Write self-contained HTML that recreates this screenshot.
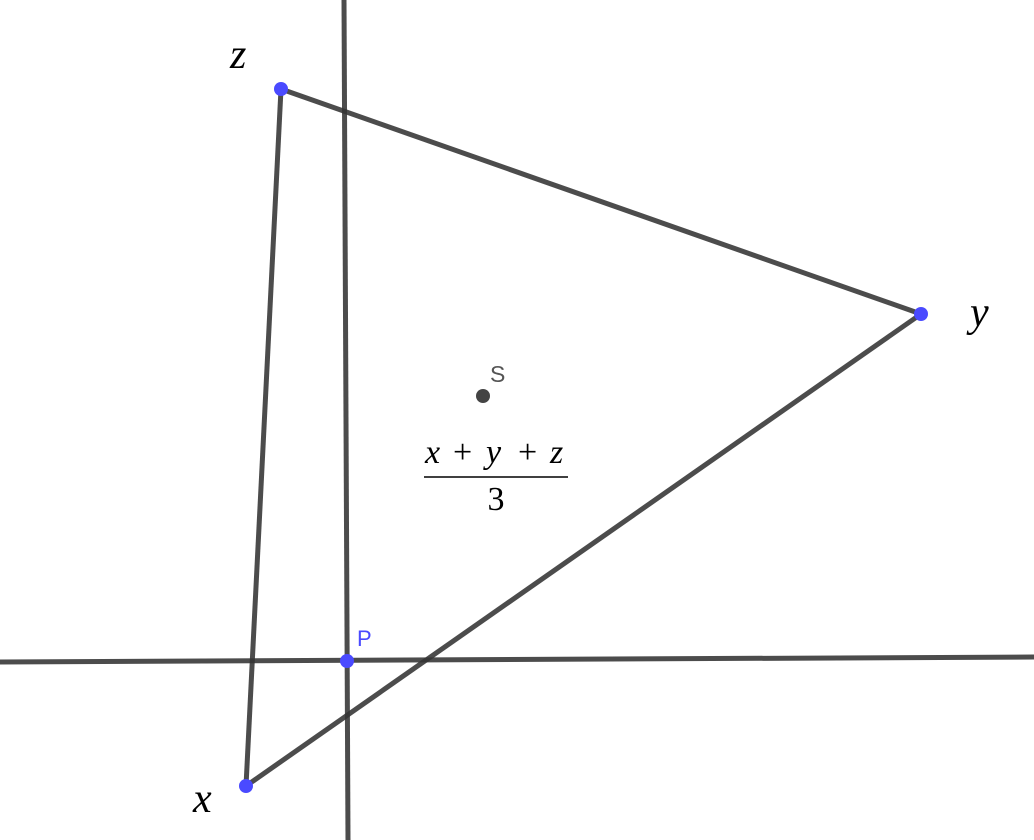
<!DOCTYPE html>
<html><head><meta charset="utf-8"><style>
html,body{margin:0;padding:0;background:#fff;}
svg{display:block;}
.m{font-family:"Liberation Serif",serif;font-style:italic;}
.s{font-family:"Liberation Sans",sans-serif;}
</style></head><body>
<svg width="1034" height="840" viewBox="0 0 1034 840" xmlns="http://www.w3.org/2000/svg">
<g stroke="#333" stroke-opacity="0.88" stroke-width="5" fill="none" stroke-linecap="butt">
<line x1="344" y1="0" x2="348" y2="840"/>
<line x1="0" y1="662" x2="1034" y2="657"/>
<line x1="281" y1="89" x2="921" y2="314"/>
<line x1="921" y1="314" x2="246" y2="786"/>
<line x1="246" y1="786" x2="281" y2="89"/>
</g>
<g fill="#4a4aff">
<circle cx="281" cy="89" r="7"/>
<circle cx="921" cy="314" r="7"/>
<circle cx="246" cy="786" r="7"/>
<circle cx="347" cy="661" r="7"/>
</g>
<circle cx="483" cy="396" r="7" fill="#444"/>
<text class="m" x="230" y="68" font-size="42">z</text>
<text class="m" x="970" y="326" font-size="42">y</text>
<text class="m" x="193" y="812" font-size="42">x</text>
<text class="s" x="490" y="382" font-size="23" fill="#555">S</text>
<text class="s" x="357" y="646" font-size="22" fill="#4a4aff">P</text>
<text class="m" y="463" font-size="34"><tspan x="425">x</tspan><tspan x="453" font-style="normal">+</tspan><tspan x="486">y</tspan><tspan x="518" font-style="normal">+</tspan><tspan x="550">z</tspan></text>
<line x1="424" y1="477" x2="568" y2="477" stroke="#000" stroke-width="1.5"/>
<text x="496" y="510" font-size="34" text-anchor="middle" font-family="Liberation Serif,serif">3</text>
</svg>
</body></html>
